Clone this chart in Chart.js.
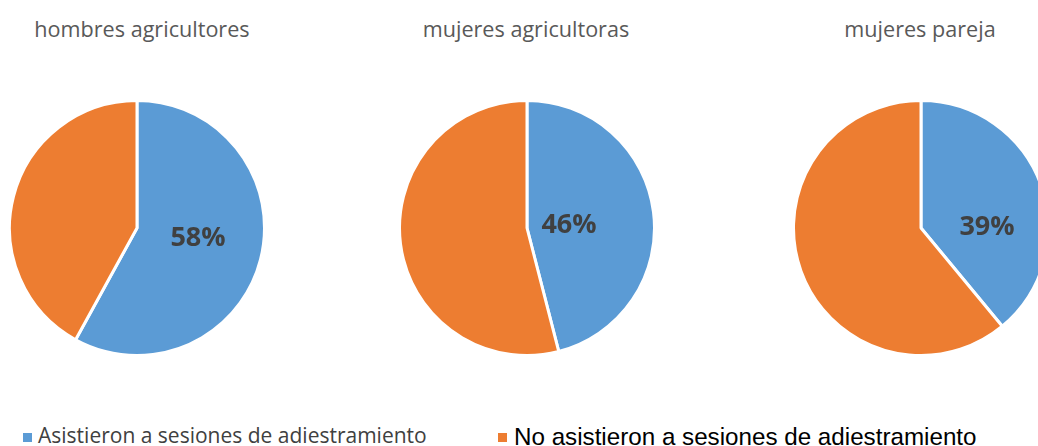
<!DOCTYPE html>
<html>
<head>
<meta charset="utf-8">
<script src="https://cdn.jsdelivr.net/npm/chart.js@4.4.1/dist/chart.umd.min.js"></script>
<style>
    html, body { margin: 0; padding: 0; background: #fff; }
    body { width: 1038px; height: 446px; position: relative; overflow: hidden; }
    .pie-box { position: absolute; width: 258px; height: 258px; }
    .pie-title {
        position: absolute; width: 300px; text-align: center;
        font-family: "Open Sans", sans-serif; font-size: 21.6px; color: #595959;
        white-space: nowrap; line-height: 24px;
    }
    .legend-text { position: absolute; white-space: nowrap; }
    .legend-sw { position: absolute; width: 9px; height: 9px; }
</style>
</head>
<body>
<div id="charts"></div>

<script>
    // groups and their share of people who attended the training sessions
    var groups = ['hombres agricultores', 'mujeres agricultoras', 'mujeres pareja'];
    var asistieron = [58, 46, 39];
    var noAsistieron = [42, 54, 61];
    var categories = ['Asistieron a sesiones de adiestramiento', 'No asistieron a sesiones de adiestramiento'];

    var colors = ['#5B9BD5', '#ED7D31'];

    // where each pie sits on the page, and where its % label goes (relative to the pie centre)
    var layout = [
        { cx: 137, cy: 228, tx: 142, lx: 61, ly: 10 },
        { cx: 527, cy: 228, tx: 526, lx: 42, ly: -3 },
        { cx: 921, cy: 228, tx: 920, lx: 66, ly: -1 }
    ];

    var percentLabel = {
        id: 'percentLabel',
        afterDatasetsDraw: function(chart, args, opts) {
            var ctx = chart.ctx;
            var arc = chart.getDatasetMeta(0).data[0];
            var value = chart.data.datasets[0].data[0];
            ctx.save();
            ctx.font = 'bold 27px "Open Sans", sans-serif';
            ctx.fillStyle = '#404040';
            ctx.textAlign = 'center';
            ctx.textBaseline = 'middle';
            ctx.fillText(value + '%', arc.x + opts.dx, arc.y + opts.dy);
            ctx.restore();
        }
    };

    var holder = document.getElementById('charts');

    groups.forEach(function(name, i) {
        var pos = layout[i];

        var title = document.createElement('div');
        title.className = 'pie-title';
        title.textContent = name;
        title.style.left = (pos.tx - 150) + 'px';
        title.style.top = '17px';
        document.body.appendChild(title);

        var box = document.createElement('div');
        box.className = 'pie-box';
        box.style.left = (pos.cx - 129) + 'px';
        box.style.top = (pos.cy - 129) + 'px';
        var canvas = document.createElement('canvas');
        box.appendChild(canvas);
        holder.appendChild(box);

        new Chart(canvas.getContext('2d'), {
            type: 'pie',
            data: {
                labels: categories,
                datasets: [{
                    data: [asistieron[i], noAsistieron[i]],
                    backgroundColor: colors,
                    borderColor: '#ffffff',
                    borderWidth: 3
                }]
            },
            options: {
                responsive: true,
                maintainAspectRatio: false,
                animation: false,
                layout: { padding: 0 },
                plugins: {
                    legend: { display: false },
                    tooltip: { enabled: false },
                    percentLabel: { dx: pos.lx, dy: pos.ly }
                }
            },
            plugins: [percentLabel]
        });
    });

    // legend along the bottom (the two entries use different fonts)
    var legendStyle = [
        { swX: 23, swY: 433, x: 38, y: 425, font: '21px/21px "Open Sans", sans-serif', color: '#404040' },
        { swX: 498, swY: 433, x: 514, y: 425, font: '24.2px/24.2px "Liberation Sans", Arial, sans-serif', color: '#000000' }
    ];
    categories.forEach(function(label, i) {
        var st = legendStyle[i];
        var sw = document.createElement('div');
        sw.className = 'legend-sw';
        sw.style.left = st.swX + 'px';
        sw.style.top = st.swY + 'px';
        sw.style.background = colors[i];
        document.body.appendChild(sw);

        var txt = document.createElement('div');
        txt.className = 'legend-text';
        txt.style.left = st.x + 'px';
        txt.style.top = st.y + 'px';
        txt.style.font = st.font;
        txt.style.color = st.color;
        txt.textContent = label;
        document.body.appendChild(txt);
    });
</script>
</body>
</html>
